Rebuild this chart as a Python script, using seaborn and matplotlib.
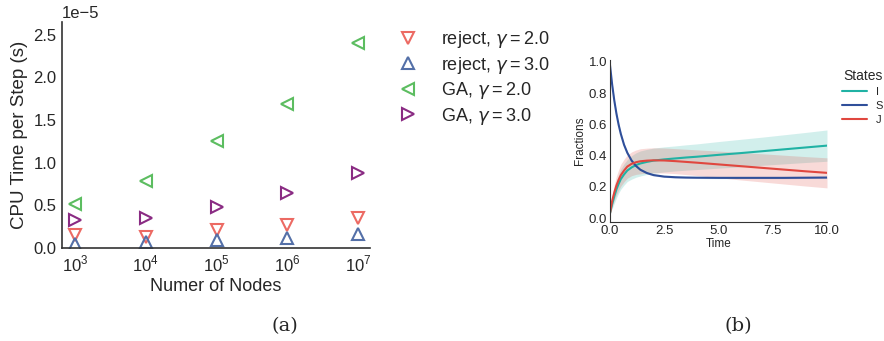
import numpy as np
import matplotlib
matplotlib.use("Agg")
import matplotlib.pyplot as plt
import seaborn as sns

# ---- data: panel (a), CPU time per step (units of 1e-5 s)
nodes = [1e3, 1e4, 1e5, 1e6, 1e7]
reject_g2 = [0.15, 0.13, 0.21, 0.27, 0.35]
reject_g3 = [0.05, 0.07, 0.09, 0.12, 0.16]
ga_g2 = [0.52, 0.78, 1.26, 1.69, 2.40]
ga_g3 = [0.33, 0.35, 0.48, 0.64, 0.88]
series_labels = [r"reject, $\gamma = 2.0$", r"reject, $\gamma = 3.0$",
                 r"GA, $\gamma = 2.0$", r"GA, $\gamma = 3.0$"]

# ---- data: panel (b), state fractions over time
t = [0, 0.1, 0.2, 0.3, 0.4, 0.5, 0.65, 0.8, 1.0, 1.2, 1.4, 1.7, 2.0,
     2.5, 3.0, 3.5, 4, 5, 6, 7, 8, 9, 10]
frac_S = [0.98, 0.855, 0.752, 0.667, 0.597, 0.539, 0.469, 0.418, 0.368,
          0.334, 0.310, 0.289, 0.276, 0.266, 0.262, 0.26, 0.259, 0.258,
          0.258, 0.258, 0.258, 0.259, 0.26]
frac_I = [0.03, 0.09, 0.14, 0.185, 0.22, 0.25, 0.28, 0.305, 0.325, 0.34,
          0.35, 0.36, 0.368, 0.376, 0.382, 0.388, 0.393, 0.405, 0.416,
          0.428, 0.44, 0.452, 0.464]
frac_J = [0.03, 0.11, 0.165, 0.21, 0.245, 0.275, 0.305, 0.33, 0.348, 0.358,
          0.364, 0.368, 0.370, 0.369, 0.365, 0.36, 0.355, 0.344, 0.333,
          0.322, 0.311, 0.30, 0.29]
err_I = [0.0, 0.03, 0.045, 0.055, 0.06, 0.065, 0.068, 0.07, 0.075, 0.078,
         0.08, 0.08, 0.08, 0.08, 0.08, 0.081, 0.082, 0.085, 0.088, 0.09,
         0.093, 0.096, 0.1]
err_J = [0.0, 0.035, 0.05, 0.06, 0.065, 0.07, 0.072, 0.074, 0.076, 0.078,
         0.08, 0.08, 0.08, 0.08, 0.08, 0.081, 0.082, 0.085, 0.088, 0.09,
         0.092, 0.094, 0.096]
err_S = [0.0, 0.01, 0.012, 0.012, 0.012, 0.012, 0.01, 0.01, 0.008, 0.008,
         0.007, 0.006, 0.006, 0.005, 0.005, 0.005, 0.005, 0.005, 0.005,
         0.005, 0.005, 0.005, 0.005]
state_names = ["I", "S", "J"]

sns.set_style("white")
plt.rcParams["font.family"] = ["Liberation Sans", "DejaVu Sans"]
plt.rcParams["mathtext.fontset"] = "custom"
plt.rcParams["mathtext.rm"] = "Liberation Sans"
plt.rcParams["mathtext.it"] = "DejaVu Sans:italic"
plt.rcParams["axes.edgecolor"] = "#333333"

fig = plt.figure(figsize=(8.84, 3.41), dpi=100)

# ---------------- panel (a)
ax1 = fig.add_axes([0.0701, 0.2727, 0.3484, 0.6628])
colors_a = ["#EC6A63", "#5470A8", "#5CBD60", "#8A2B83"]
markers_a = ["v", "^", "<", ">"]
for vals, c, m, lab in zip([reject_g2, reject_g3, ga_g2, ga_g3], colors_a,
                           markers_a, series_labels):
    y = np.array(vals) * 1e-5
    sns.lineplot(x=nodes, y=y, ax=ax1, marker=m, linestyle="", color=c,
                 markersize=9, markerfacecolor="none", markeredgecolor=c,
                 markeredgewidth=1.5, label=lab)
ax1.set_xscale("log")
ax1.set_xlim(10 ** 2.816, 10 ** 7.165)
ax1.set_ylim(0, 2.65e-5)
ax1.set_xticks(nodes)
ax1.set_xticklabels([r"$10^{%d}$" % k for k in range(3, 8)])
ax1.minorticks_off()
ax1.set_yticks(np.arange(0, 2.6e-5, 0.5e-5))
ax1.ticklabel_format(axis="y", style="sci", scilimits=(0, 0))
ax1.yaxis.get_offset_text().set_fontsize(12)
ax1.tick_params(labelsize=12, length=0, pad=4)
ax1.set_xlabel("Numer of Nodes", fontsize=13, labelpad=3)
ax1.set_ylabel("CPU Time per Step (s)", fontsize=13.5, labelpad=4)
sns.despine(ax=ax1)
for s in ["left", "bottom"]:
    ax1.spines[s].set_linewidth(1.2)
ax1.legend(loc="upper left", bbox_to_anchor=(1.042, 1.0), frameon=False,
           fontsize=13, handlelength=2.0, handletextpad=0.8,
           labelspacing=0.25, borderaxespad=0)

# ---------------- panel (b)
ax2 = fig.add_axes([0.690, 0.349, 0.2455, 0.475])
colors_b = ["#20B2A4", "#2F4F9A", "#E0473F"]
for vals, err, c, name in zip([frac_I, frac_S, frac_J], [err_I, err_S, err_J],
                              colors_b, state_names):
    v = np.array(vals)
    e = np.array(err)
    sns.lineplot(x=t, y=v, ax=ax2, color=c, linewidth=1.5, label=name)
    ax2.fill_between(t, v - e, v + e, color=c, alpha=0.2, linewidth=0)
ax2.set_xlim(0, 10)
ax2.set_ylim(-0.024, 1.011)
ax2.set_xticks([0, 2.5, 5, 7.5, 10])
ax2.set_xticklabels(["0.0", "2.5", "5.0", "7.5", "10.0"])
ax2.set_yticks(np.arange(0, 1.01, 0.2))
ax2.set_yticklabels(["0.0", "0.2", "0.4", "0.6", "0.8", "1.0"])
ax2.tick_params(labelsize=9.5, length=0, pad=2)
ax2.set_xlabel("Time", fontsize=8.5, labelpad=1)
ax2.set_ylabel("Fractions", fontsize=8.5, labelpad=2)
sns.despine(ax=ax2)
ax2.legend(title="States", loc="upper left", bbox_to_anchor=(1.05, 0.97),
           frameon=False, fontsize=8, title_fontsize=10,
           handlelength=2.2, labelspacing=0.35, borderaxespad=0)

fig.text(0.322, 0.03, "(a)", family="DejaVu Serif", fontsize=14, ha="center")
fig.text(0.835, 0.03, "(b)", family="DejaVu Serif", fontsize=14, ha="center")

fig.savefig("out.png", dpi=100)
